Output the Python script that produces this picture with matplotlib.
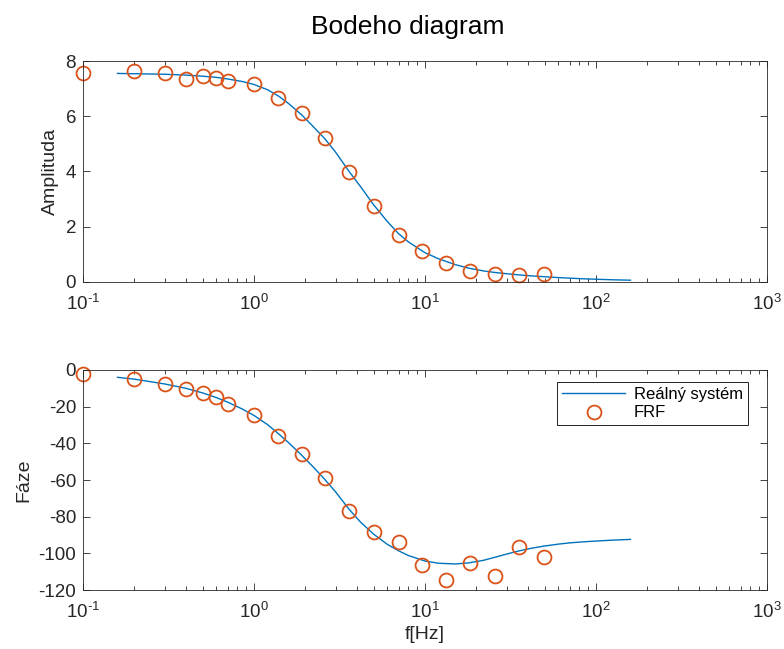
import matplotlib
matplotlib.use('Agg')
import matplotlib.pyplot as plt
from matplotlib.ticker import LogLocator, NullFormatter, FixedLocator, FixedFormatter

plt.rcParams['font.family'] = ['Liberation Sans', 'DejaVu Sans']
plt.rcParams['mathtext.fontset'] = 'custom'
plt.rcParams['mathtext.rm'] = 'Liberation Sans'
plt.rcParams['axes.unicode_minus'] = False

# merene body (FRF)
f_meas = [0.1, 0.2, 0.3, 0.4, 0.5, 0.6, 0.7, 1.0, 1.38, 1.9, 2.6, 3.6, 5.0, 7.0,
          9.6, 13.3, 18.3, 25.6, 35.5, 49.6]
amp_meas = [7.58, 7.65, 7.58, 7.35, 7.47, 7.40, 7.28, 7.17, 6.67, 6.12, 5.21, 3.98,
            2.76, 1.70, 1.12, 0.70, 0.40, 0.29, 0.24, 0.28]
phase_meas = [-2.2, -5.1, -7.6, -10.4, -12.7, -14.5, -18.4, -24.7, -35.8, -46.0,
              -59.1, -77.1, -88.3, -93.7, -106.2, -114.5, -105.4, -112.4, -96.7, -102.2]

# realny system
f_model = [0.159, 0.2, 0.3, 0.4, 0.5, 0.6, 0.7, 0.85, 1.0, 1.2, 1.4, 1.6, 1.9, 2.2,
           2.6, 3.0, 3.6, 4.2, 5.0, 6.0, 7.0, 8.0, 10, 12, 15, 18, 22, 26, 30, 35,
           42, 50, 60, 70, 85, 100, 125, 159]
amp_model = [7.55, 7.54, 7.52, 7.49, 7.45, 7.41, 7.35, 7.26, 7.15, 6.96, 6.72, 6.45,
             6.05, 5.65, 5.18, 4.70, 4.00, 3.45, 2.80, 2.20, 1.75, 1.45, 1.06, 0.84,
             0.63, 0.50, 0.40, 0.34, 0.30, 0.26, 0.22, 0.19, 0.16, 0.14, 0.115, 0.10,
             0.08, 0.065]
phase_model = [-4.0, -5.0, -7.6, -10.0, -12.5, -15.0, -17.5, -21.2, -24.8, -29.8,
               -35.0, -39.8, -46.5, -52.5, -59.8, -66.5, -76.0, -83.0, -89.5, -95.0,
               -98.6, -101.2, -104.2, -105.4, -105.8, -105.2, -103.8, -102.0, -100.4,
               -98.8, -97.2, -96.0, -95.0, -94.3, -93.7, -93.3, -92.8, -92.4]

x_ticks = [0.1, 1, 10, 100, 1000]
x_labels = [r'$\mathdefault{10^{\text{-}1}}$', r'$\mathdefault{10^{0}}$',
            r'$\mathdefault{10^{1}}$', r'$\mathdefault{10^{2}}$',
            r'$\mathdefault{10^{3}}$']

blue = '#0072BD'
orange = '#D95319'
grey = '#262626'

fig = plt.figure(figsize=(7.84, 6.49), dpi=100)
ax1 = fig.add_axes([0.1059, 0.5655, 0.8724, 0.3405])
ax2 = fig.add_axes([0.1059, 0.0909, 0.8724, 0.3390])


def styl(ax):
    ax.set_xscale('log')
    ax.set_xlim(0.1, 1000)
    ax.xaxis.set_major_locator(FixedLocator(x_ticks))
    ax.xaxis.set_major_formatter(FixedFormatter(x_labels))
    ax.xaxis.set_minor_locator(LogLocator(base=10, subs=range(2, 10), numticks=20))
    ax.xaxis.set_minor_formatter(NullFormatter())
    ax.tick_params(which='both', direction='in', top=True, right=True,
                   colors=grey, labelsize=13.5, width=0.6)
    ax.tick_params(which='major', length=5)
    ax.tick_params(axis='y', pad=5)
    ax.tick_params(axis='x', which='major', pad=8.5)
    ax.tick_params(which='minor', length=3)
    for s in ax.spines.values():
        s.set_color(grey)
        s.set_linewidth(0.6)


ax1.plot(f_model, amp_model, color=blue, lw=1.0)
ax1.plot(f_meas, amp_meas, 'o', mfc='none', mec=orange, mew=1.3, ms=10, clip_on=False)
styl(ax1)
ax1.set_ylim(0, 8)
ax1.set_yticks([0, 2, 4, 6, 8])
ax1.set_ylabel('Amplituda', fontsize=14, color=grey, labelpad=5)

fig.text(408 / 784, 1 - 27 / 649, 'Bodeho diagram', fontsize=19,
         ha='center', va='center')

ax2.plot(f_model, phase_model, color=blue, lw=1.0, label='Reálný systém')
ax2.plot(f_meas, phase_meas, 'o', mfc='none', mec=orange, mew=1.3, ms=10,
         clip_on=False, label='FRF')
styl(ax2)
ax2.set_ylim(-120, 0)
ax2.set_yticks(range(-120, 1, 20))
ax2.set_ylabel('Fáze', fontsize=14, color=grey, labelpad=4.5)
ax2.set_xlabel('f[Hz]', fontsize=14, color=grey, labelpad=3)

leg = ax2.legend(loc='upper right', bbox_to_anchor=(0.972, 0.945), borderaxespad=0,
                 fontsize=12, fancybox=False, framealpha=1, edgecolor='black',
                 handlelength=3.8, handletextpad=0.5, borderpad=0.3,
                 labelspacing=0.2)
leg.get_frame().set_linewidth(0.6)

fig.savefig('out.png', dpi=100)
